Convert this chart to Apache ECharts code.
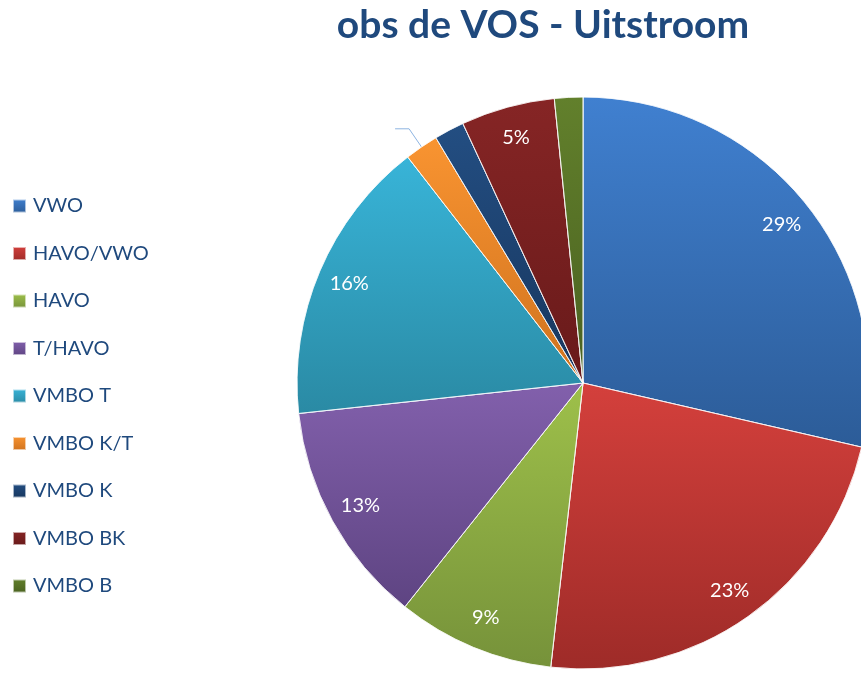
<!DOCTYPE html>
<html>
<head>
<meta charset="utf-8">
<script src="https://cdn.jsdelivr.net/npm/echarts@6/dist/echarts.min.js"></script>
<style>
  html, body { margin: 0; padding: 0; background: #fff; }
  #main { width: 861px; height: 673px; }
</style>
</head>
<body>
<div id="main"></div>
<script>
const categories = ['VWO', 'HAVO/VWO', 'HAVO', 'T/HAVO', 'VMBO T', 'VMBO K/T', 'VMBO K', 'VMBO BK', 'VMBO B'];
const values = [28.6, 23.2, 8.9, 12.6, 16.2, 1.9, 1.7, 5.3, 1.6];
const colorsTop = ['#4080D0', '#D4403C', '#9EC04A', '#8260AC', '#38B4D8', '#F99431', '#234E82', '#862525', '#62802C'];
const colorsBottom = ['#2C5C98', '#9E2B28', '#76923A', '#5E4482', '#2A8AA4', '#CF721E', '#17365E', '#681A1A', '#4A6120'];

const main = document.getElementById('main');
const chart = echarts.init(main);

const grad = (i) => new echarts.graphic.LinearGradient(0, 0, 0, 1, [
    { offset: 0, color: colorsTop[i] },
    { offset: 1, color: colorsBottom[i] }
]);

const pieData = categories.map((name, i) => ({
    name: name,
    value: values[i],
    itemStyle: { color: grad(i) }
}));

// same slices again, transparent, only to put the % labels nearer the rim
const labelData = categories.map((name, i) => {
    const item = { name: name, value: values[i] };
    if (name === 'VMBO K/T') {
        item.label = { show: true, position: 'outside', formatter: '' };
        item.labelLine = { show: true, length: 22, length2: 14, lineStyle: { color: '#8DB4E2', width: 1 } };
    } else if (values[i] < 3) {
        item.label = { show: false };
        item.labelLine = { show: false };
    }
    return item;
});

let option = {
    backgroundColor: '#fff',
    title: {
        text: 'obs de VOS - Uitstroom',
        left: 538,
        top: 1,
        textAlign: 'center',
        textStyle: {
            fontFamily: 'Lato',
            fontWeight: 'bold',
            fontSize: 39,
            color: '#1F497D'
        }
    },
    legend: {
        orient: 'vertical',
        left: 7,
        top: 191,
        itemWidth: 13,
        itemHeight: 13,
        itemGap: 27.5,
        icon: 'rect',
        selectedMode: false,
        data: categories,
        textStyle: {
            fontFamily: 'Lato',
            fontSize: 20,
            color: '#1F497D',
            padding: [0, 0, 0, 2]
        }
    },
    series: [
        {
            type: 'pie',
            center: [583, 383],
            radius: 286,
            startAngle: 90,
            clockwise: true,
            silent: true,
            label: { show: false },
            labelLine: { show: false },
            itemStyle: { borderColor: 'rgba(255,255,255,0.6)', borderWidth: 1 },
            data: pieData
        },
        {
            type: 'pie',
            center: [583, 383],
            radius: [216, 286],
            startAngle: 90,
            clockwise: true,
            silent: true,
            itemStyle: { color: 'rgba(0,0,0,0)' },
            label: {
                show: true,
                position: 'inside',
                fontFamily: 'Lato',
                fontSize: 20,
                color: '#fff',
                formatter: (p) => Math.round(p.value) + '%'
            },
            data: labelData
        }
    ]
};

if (option && typeof option === 'object') {
    chart.setOption(option);
}
</script>
</body>
</html>
